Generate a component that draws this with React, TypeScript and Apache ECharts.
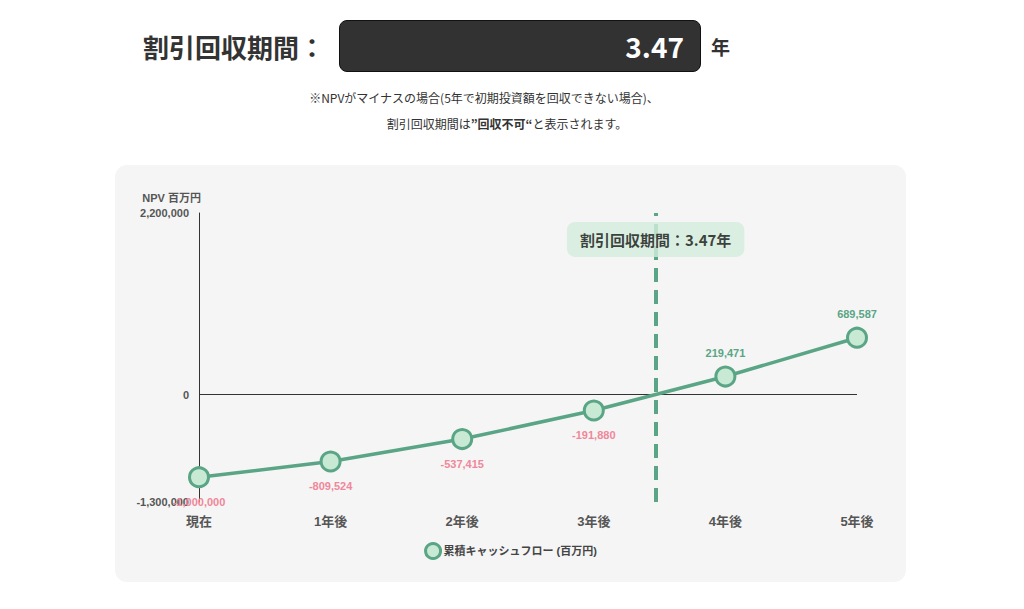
import React, { useEffect, useRef } from "react";
import * as echarts from "echarts";

const categories = ["現在", "1年後", "2年後", "3年後", "4年後", "5年後"];
const cumulativeCF = [-1000000, -809524, -537415, -191880, 219471, 689587];
const paybackYears = 3.47;
const yTickLabels = [2200000, 0, -1300000];
const seriesName = "累積キャッシュフロー (百万円)";

const GREEN = "#5aa585";
const LIGHT = "#c8e9d4";
const PINK = "#f0879a";
const FONT = "'Liberation Sans', 'Noto Sans CJK JP', sans-serif";
const JP = "'Noto Sans CJK JP', sans-serif";

function Chart() {
  const ref = useRef<HTMLDivElement>(null);
  useEffect(() => {
    if (!ref.current) return;
    const chart = echarts.init(ref.current, null, { renderer: "svg" });
    const fmt = (v: number) => v.toLocaleString("en-US");
    chart.setOption({
      animation: false,
      textStyle: { fontFamily: FONT },
      grid: { left: 84, right: 49, top: 48, bottom: 80 },
      legend: {
        data: [seriesName],
        bottom: 17,
        icon: "circle",
        itemWidth: 15,
        itemHeight: 15,
        itemGap: 10,
        itemStyle: { color: LIGHT, borderColor: GREEN, borderWidth: 3 },
        textStyle: { fontSize: 11, fontWeight: "bold", color: "#444", fontFamily: FONT, padding: [0, 0, 0, -2] },
      },
      xAxis: {
        type: "value",
        min: 0,
        max: 5,
        interval: 1,
        axisLine: { show: false },
        axisTick: { show: false },
        splitLine: { show: false },
        axisLabel: {
          margin: 13,
          fontSize: 13,
          fontWeight: "bold",
          color: "#555",
          fontFamily: FONT,
          formatter: (v: number) => categories[Math.round(v)] ?? "",
        },
      },
      yAxis: {
        type: "value",
        min: -1300000,
        max: 2200000,
        interval: 100000,
        name: "NPV 百万円",
        nameLocation: "end",
        nameGap: 10,
        nameTextStyle: { align: "right", fontSize: 11, fontWeight: "bold", color: "#555", fontFamily: FONT, padding: [0, -2, 0, 0] },
        axisLine: { show: true, lineStyle: { color: "#333", width: 1 } },
        axisTick: { show: false },
        splitLine: { show: false },
        axisLabel: {
          margin: 10,
          fontSize: 11,
          fontWeight: "bold",
          color: "#555",
          fontFamily: FONT,
          formatter: (v: number) => (yTickLabels.includes(v) ? fmt(v) : ""),
        },
      },
      series: [
        {
          name: seriesName,
          type: "line",
          data: cumulativeCF.map((v, i) => ({
            value: [i, v],
            label: {
              position: v < 0 ? "bottom" : "top",
              distance: v < 0 ? 8 : 7,
              color: v < 0 ? PINK : GREEN,
            },
          })),
          symbol: "circle",
          symbolSize: 19,
          z: 3,
          lineStyle: { color: GREEN, width: 3.5 },
          itemStyle: { color: LIGHT, borderColor: GREEN, borderWidth: 3 },
          label: {
            show: true,
            fontSize: 11,
            fontWeight: "bold",
            fontFamily: FONT,
            formatter: (p: any) => fmt(p.value[1]),
          },
          labelLayout: { hideOverlap: false },
          markLine: {
            silent: true,
            symbol: "none",
            label: { show: false },
            z: 1,
            data: [
              { yAxis: 0, lineStyle: { color: "#333", width: 1, type: "solid" } },
              { xAxis: paybackYears, lineStyle: { color: GREEN, width: 4, type: [14, 8] } },
            ],
          },
        },
        {
          name: "payback",
          type: "scatter",
          silent: true,
          z: 5,
          symbolSize: 0,
          data: [[paybackYears, 1880000]],
          label: {
            show: true,
            position: "inside",
            formatter: () => `割引回収期間：${paybackYears}年`,
            fontSize: 15,
            fontWeight: "bold",
            color: "#111",
            fontFamily: JP,
            backgroundColor: "#d3eedc",
            borderRadius: 8,
            padding: [10, 13],
          },
        },
      ],
    });
    return () => chart.dispose();
  }, []);
  return <div ref={ref} style={{ width: 791, height: 417 }} />;
}

export default function App() {
  return (
    <div style={{ position: "absolute", left: 0, top: 0, width: 1024, height: 609, background: "#fff", fontFamily: JP, overflow: "hidden" }}>
      <div style={{ position: "absolute", left: 143, top: 28, fontSize: 26, fontWeight: 700, color: "#333", lineHeight: "38px", whiteSpace: "nowrap" }}>
        割引回収期間：
      </div>
      <div
        style={{
          position: "absolute",
          left: 339,
          top: 20,
          width: 362,
          height: 52,
          boxSizing: "border-box",
          background: "#323232",
          border: "1px solid #111",
          borderRadius: 8,
          color: "#fff",
          fontSize: 28,
          fontWeight: 700,
          textAlign: "right",
          paddingRight: 16,
          lineHeight: "50px",
        }}
      >
        3.47
      </div>
      <div style={{ position: "absolute", left: 711, top: 34, fontSize: 19, fontWeight: 700, color: "#333", lineHeight: "26px" }}>年</div>
      <div style={{ position: "absolute", left: 0, width: 968, top: 89, textAlign: "center", fontSize: 12, color: "#333", lineHeight: "18px", whiteSpace: "nowrap" }}>
        ※NPVがマイナスの場合(5年で初期投資額を回収できない場合)、
      </div>
      <div style={{ position: "absolute", left: 0, width: 1014, top: 115, textAlign: "center", fontSize: 12, color: "#333", lineHeight: "18px", whiteSpace: "nowrap" }}>
        割引回収期間は<b>”回収不可“</b>と表示されます。
      </div>
      <div style={{ position: "absolute", left: 115, top: 165, width: 791, height: 417, background: "#f5f5f5", borderRadius: 12 }}>
        <Chart />
      </div>
    </div>
  );
}
